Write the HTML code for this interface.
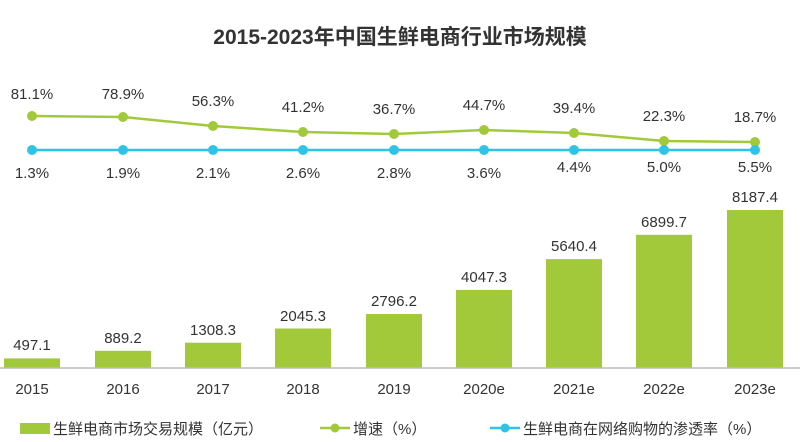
<!DOCTYPE html>
<html><head><meta charset="utf-8"><style>
html,body{margin:0;padding:0;background:#fff;}
svg{display:block;font-family:"Liberation Sans","Noto Sans CJK SC",sans-serif;}
</style></head><body>
<svg width="800" height="442" viewBox="0 0 800 442" xmlns="http://www.w3.org/2000/svg">
<text x="400" y="44" text-anchor="middle" font-size="21" font-weight="bold" fill="#333">2015-2023年中国生鲜电商行业市场规模</text>
<g fill="#a2c93a">
<rect x="4" y="358.4" width="56" height="9.6"/>
<rect x="95" y="350.8" width="56" height="17.2"/>
<rect x="185" y="342.7" width="56" height="25.3"/>
<rect x="275" y="328.5" width="56" height="39.5"/>
<rect x="366" y="314" width="56" height="54"/>
<rect x="456" y="289.9" width="56" height="78.1"/>
<rect x="546" y="259.1" width="56" height="108.9"/>
<rect x="636" y="234.8" width="56" height="133.2"/>
<rect x="727" y="210" width="56" height="158"/>
</g>
<line x1="0" y1="368" x2="800" y2="368" stroke="#bbb" stroke-width="1.5"/>
<g font-size="15" fill="#333" text-anchor="middle">
<text x="32" y="350">497.1</text>
<text x="123" y="343">889.2</text>
<text x="213" y="335">1308.3</text>
<text x="303" y="321">2045.3</text>
<text x="394" y="306">2796.2</text>
<text x="484" y="282">4047.3</text>
<text x="574" y="251">5640.4</text>
<text x="664" y="227">6899.7</text>
<text x="755" y="202">8187.4</text>
</g>
<g font-size="15" fill="#333" text-anchor="middle">
<text x="32" y="394">2015</text><text x="123" y="394">2016</text><text x="213" y="394">2017</text>
<text x="303" y="394">2018</text><text x="394" y="394">2019</text><text x="484" y="394">2020e</text>
<text x="574" y="394">2021e</text><text x="664" y="394">2022e</text><text x="755" y="394">2023e</text>
</g>
<polyline fill="none" stroke="#a2c93a" stroke-width="2.5" points="32,116 123,117 213,126 303,132 394,134 484,130 574,133 664,141 755,142"/>
<g fill="#a2c93a">
<circle cx="32" cy="116" r="5"/><circle cx="123" cy="117" r="5"/><circle cx="213" cy="126" r="5"/>
<circle cx="303" cy="132" r="5"/><circle cx="394" cy="134" r="5"/><circle cx="484" cy="130" r="5"/>
<circle cx="574" cy="133" r="5"/><circle cx="664" cy="141" r="5"/><circle cx="755" cy="142" r="5"/>
</g>
<polyline fill="none" stroke="#2ec4e6" stroke-width="2.5" points="32,150 755,150"/>
<g fill="#2ec4e6">
<circle cx="32" cy="150" r="5"/><circle cx="123" cy="150" r="5"/><circle cx="213" cy="150" r="5"/>
<circle cx="303" cy="150" r="5"/><circle cx="394" cy="150" r="5"/><circle cx="484" cy="150" r="5"/>
<circle cx="574" cy="150" r="5"/><circle cx="664" cy="150" r="5"/><circle cx="755" cy="150" r="5"/>
</g>
<g font-size="15" fill="#333" text-anchor="middle">
<text x="32" y="99">81.1%</text><text x="123" y="99">78.9%</text><text x="213" y="106">56.3%</text>
<text x="303" y="112">41.2%</text><text x="394" y="114">36.7%</text><text x="484" y="110">44.7%</text>
<text x="574" y="113">39.4%</text><text x="664" y="121">22.3%</text><text x="755" y="122">18.7%</text>
<text x="32" y="178">1.3%</text><text x="123" y="178">1.9%</text><text x="213" y="178">2.1%</text>
<text x="303" y="178">2.6%</text><text x="394" y="178">2.8%</text><text x="484" y="178">3.6%</text>
<text x="574" y="172">4.4%</text><text x="664" y="172">5.0%</text><text x="755" y="172">5.5%</text>
</g>
<rect x="20" y="423" width="30" height="11" fill="#a2c93a"/>
<text x="53" y="434" font-size="15" fill="#333">生鲜电商市场交易规模（亿元）</text>
<line x1="320" y1="428" x2="350" y2="428" stroke="#a2c93a" stroke-width="2.5"/>
<circle cx="335" cy="428" r="4.5" fill="#a2c93a"/>
<text x="353" y="434" font-size="15" fill="#333">增速（%）</text>
<line x1="490" y1="428" x2="520" y2="428" stroke="#2ec4e6" stroke-width="2.5"/>
<circle cx="505" cy="428" r="4.5" fill="#2ec4e6"/>
<text x="523" y="434" font-size="15" fill="#333">生鲜电商在网络购物的渗透率（%）</text>
</svg>
</body></html>
